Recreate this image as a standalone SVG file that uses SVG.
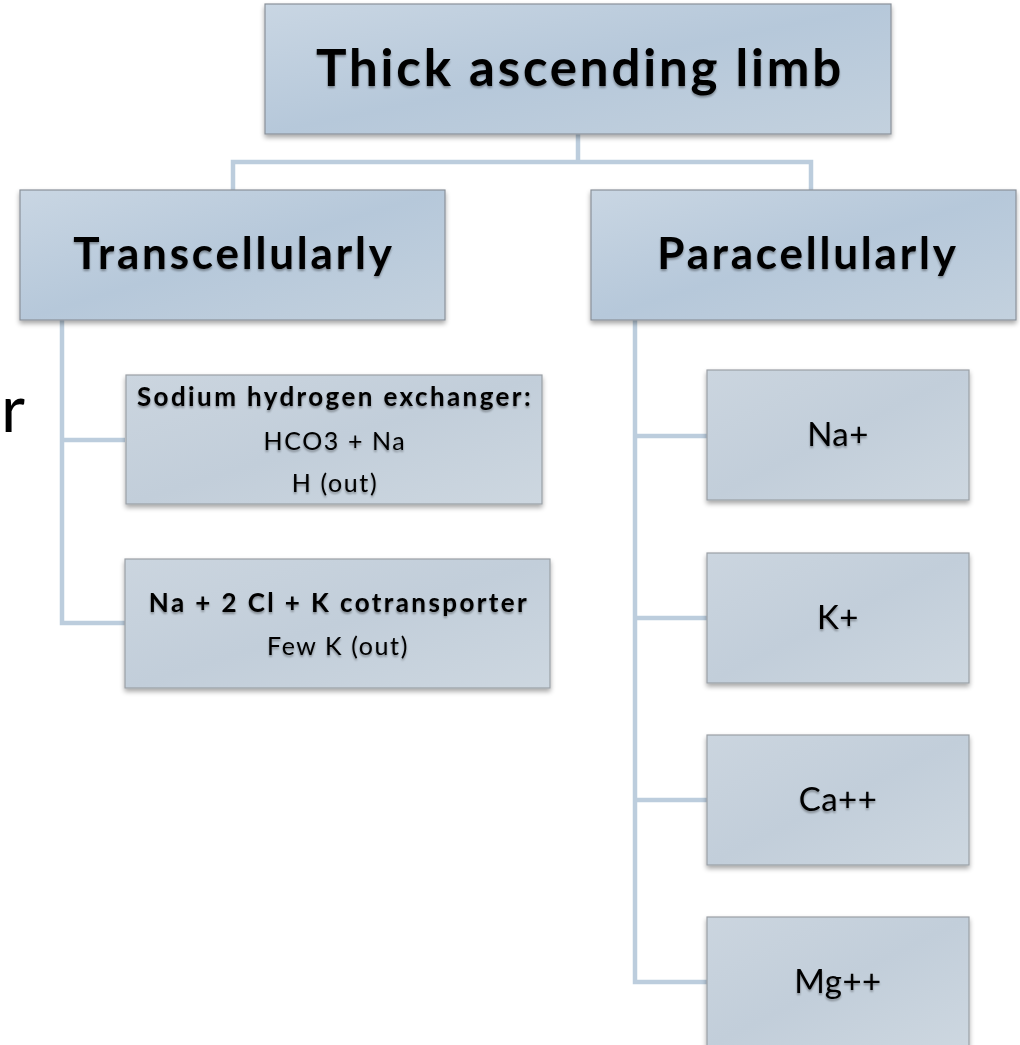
<svg xmlns="http://www.w3.org/2000/svg" width="1020" height="1045" viewBox="0 0 1020 1045">
<defs>
<linearGradient id="gTop" x1="0" y1="0" x2="1" y2="1">
<stop offset="0" stop-color="#c9d6e3"/>
<stop offset="0.5" stop-color="#b6c8da"/>
<stop offset="1" stop-color="#c3d1de"/>
</linearGradient>
<linearGradient id="gSub" x1="0" y1="0" x2="1" y2="1">
<stop offset="0" stop-color="#cbd5df"/>
<stop offset="0.5" stop-color="#c2ceda"/>
<stop offset="1" stop-color="#cdd7e0"/>
</linearGradient>
<filter id="sh" x="-10%" y="-10%" width="120%" height="130%">
<feGaussianBlur in="SourceAlpha" stdDeviation="2.5"/>
<feOffset dx="0" dy="3" result="b"/>
<feComponentTransfer><feFuncA type="linear" slope="0.35"/></feComponentTransfer>
<feMerge><feMergeNode/><feMergeNode in="SourceGraphic"/></feMerge>
</filter>
<filter id="tsh" x="-10%" y="-20%" width="120%" height="150%">
<feGaussianBlur in="SourceAlpha" stdDeviation="1.2"/>
<feOffset dx="0" dy="2"/>
<feComponentTransfer><feFuncA type="linear" slope="0.35"/></feComponentTransfer>
<feMerge><feMergeNode/><feMergeNode in="SourceGraphic"/></feMerge>
</filter>
</defs>
<style>
.top{fill:url(#gTop);stroke:#8a9199;stroke-width:1.2;filter:url(#sh)}
.sub{fill:url(#gSub);stroke:#9aa0a6;stroke-width:1.2;filter:url(#sh)}
.conn{fill:none;stroke:#bccddd;stroke-width:4.5}
text{font-family:Lato,"Open Sans","Liberation Sans",sans-serif;fill:#000;text-anchor:middle;filter:url(#tsh)}
.h1{font-size:51px;font-weight:bold;letter-spacing:2.8px}
.h2{font-size:44px;font-weight:bold;letter-spacing:2.8px}
.b{font-size:26px;font-weight:bold;letter-spacing:2.4px}
.n{font-size:25px;letter-spacing:1.6px}
.s{font-size:33px;letter-spacing:0.5px}
</style>
<rect width="1020" height="1045" fill="#fff"/>
<text x="1" y="432" style="font-size:66px;text-anchor:start;filter:none">r</text>
<g id="connectors">
<path class="conn" d="M578 134 V162 M233 190 V162 H811 V190"/>
<path class="conn" d="M62 320 V623 H125 M62 440 H125"/>
<path class="conn" d="M635 320 V982 H707 M635 436 H707 M635 618 H707 M635 800 H707"/>
</g>
<g id="n-top"><rect class="top" x="265" y="4" width="626" height="130"/><text class="h1" x="580" y="86">Thick ascending limb</text></g>
<g id="n-trans"><rect class="top" x="20" y="190" width="425" height="130"/><text class="h2" x="234" y="269">Transcellularly</text></g>
<g id="n-para"><rect class="top" x="591" y="190" width="425" height="130"/><text class="h2" x="808" y="269">Paracellularly</text></g>
<g id="n-nhe"><rect class="sub" x="126" y="375" width="416" height="129"/><text class="b" x="335" y="406">Sodium hydrogen exchanger:</text><text class="n" x="335" y="450">HCO3 + Na</text><text class="n" x="335" y="492">H (out)</text></g>
<g id="n-nkcc"><rect class="sub" x="125" y="559" width="425" height="129"/><text class="b" x="339" y="612">Na + 2 Cl + K cotransporter</text><text class="n" x="338" y="655">Few K (out)</text></g>
<g id="n-na"><rect class="sub" x="707" y="370" width="262" height="130"/><text class="s" x="838" y="446">Na+</text></g>
<g id="n-k"><rect class="sub" x="707" y="553" width="262" height="130"/><text class="s" x="838" y="629">K+</text></g>
<g id="n-ca"><rect class="sub" x="707" y="735" width="262" height="130"/><text class="s" x="838" y="811">Ca++</text></g>
<g id="n-mg"><rect class="sub" x="707" y="917" width="262" height="130"/><text class="s" x="838" y="993">Mg++</text></g>
</svg>
